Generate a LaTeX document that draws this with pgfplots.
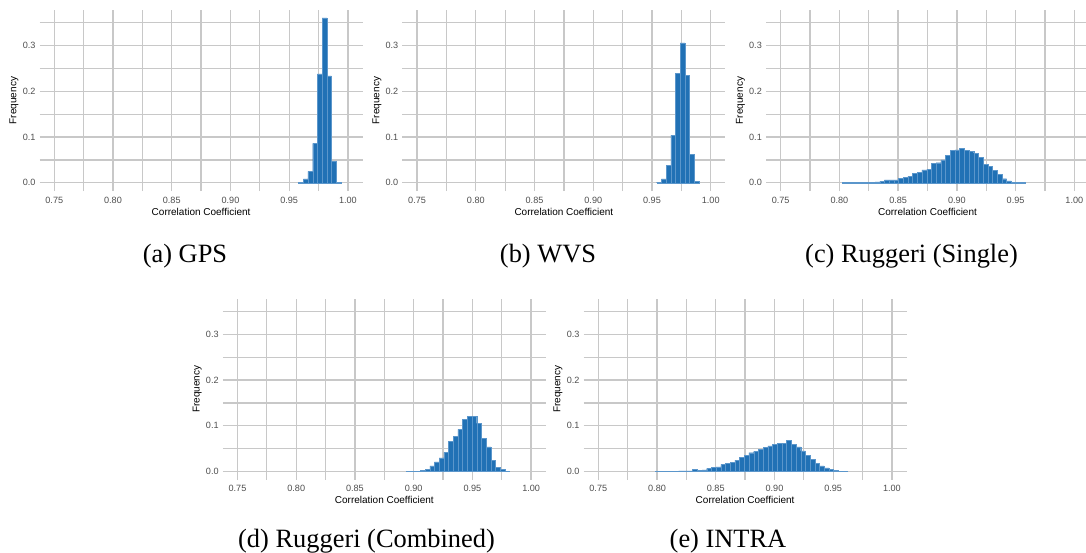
\documentclass[border=0pt]{standalone}
\usepackage{fontspec}
\setmainfont{Liberation Sans}
\newfontfamily\capfont{Liberation Serif}
\usepackage{pgfplots}
\pgfplotsset{compat=1.18}

\definecolor{barblue}{HTML}{2171B5}
\definecolor{baredge}{HTML}{5B96CB}
\definecolor{gridgray}{HTML}{C8C8C8}
\definecolor{ticktext}{HTML}{4D4D4D}

\pgfplotsset{
  hist/.style={
    scale only axis, width=323pt, height=181pt,
    anchor=north west,
    xmin=0.7375, xmax=1.0125, ymin=-0.018, ymax=0.378,
    xtick={0.75,0.80,0.85,0.90,0.95,1.00},
    minor xtick={0.775,0.825,0.875,0.925,0.975},
    ytick={0,0.1,0.2,0.3},
    minor ytick={0.05,0.15,0.25,0.35},
    grid=both,
    major grid style={draw=gridgray, line width=1.3pt},
    minor grid style={draw=gridgray, line width=1.3pt},
    axis line style={draw=none},
    tick style={draw=none},
    tick label style={font=\fontsize{9.1}{10}\selectfont, text=ticktext},
    /pgf/number format/assume math mode=true,
    xticklabel style={anchor=center, yshift=-9pt,
      /pgf/number format/.cd, fixed, fixed zerofill, precision=2},
    yticklabel style={anchor=east, inner sep=0pt, xshift=-4pt,
      /pgf/number format/.cd, fixed, fixed zerofill, precision=1},
    xlabel={Correlation Coefficient},
    ylabel={Frequency},
    label style={font=\fontsize{11.1}{12}\selectfont},
    every axis x label/.style={at={(axis description cs:0.5,-0.114)}, anchor=center},
    every axis y label/.style={at={(axis description cs:-0.079,0.5)}, anchor=center, rotate=90},
  },
  bars/.style={ybar interval, fill=barblue, draw=baredge, line width=0.3pt},
}

\begin{document}
\begin{tikzpicture}
\path[use as bounding box] (0,0) rectangle (1086pt,-553pt);

% (a) GPS
\begin{axis}[hist, at={(39.6pt,-10pt)}]
\addplot[bars] coordinates {
  (0.958,0.001) (0.962,0.0088) (0.966,0.025) (0.970,0.086) (0.974,0.238)
  (0.978,0.361) (0.982,0.234) (0.986,0.047) (0.990,0.001) (0.994,0)
};
\end{axis}

% (b) WVS
\begin{axis}[hist, at={(402.4pt,-10pt)}]
\addplot[bars] coordinates {
  (0.954,0.0015) (0.958,0.0088) (0.962,0.038) (0.966,0.104) (0.970,0.239)
  (0.974,0.306) (0.978,0.235) (0.982,0.062) (0.986,0.003) (0.990,0)
};
\end{axis}

% (c) Ruggeri (Single)
\begin{axis}[hist, at={(766pt,-10pt)}]
\addplot[bars] coordinates {
  (0.8023,0.0004) (0.8063,0.0004) (0.8103,0.0005) (0.8143,0.0005) (0.8183,0.0008)
  (0.8223,0.0010) (0.8263,0.0012) (0.8303,0.0020) (0.8343,0.0025) (0.8383,0.0066)
  (0.8423,0.0066) (0.8463,0.0062) (0.8503,0.010) (0.8543,0.012) (0.8583,0.014)
  (0.8623,0.020) (0.8663,0.023) (0.8703,0.028) (0.8743,0.029) (0.8783,0.042)
  (0.8823,0.044) (0.8863,0.050) (0.8903,0.060) (0.8943,0.071) (0.8983,0.072)
  (0.9023,0.075) (0.9063,0.071) (0.9103,0.069) (0.9143,0.065) (0.9183,0.056)
  (0.9223,0.040) (0.9263,0.036) (0.9303,0.027) (0.9343,0.018) (0.9383,0.009)
  (0.9423,0.004) (0.9463,0.0015) (0.9503,0.0006) (0.9543,0.0003) (0.9583,0)
};
\end{axis}

% (d) Ruggeri (Combined)
\begin{axis}[hist, at={(222.8pt,-298.7pt)}]
\addplot[bars] coordinates {
  (0.8937,0.0003) (0.8977,0.0005) (0.9017,0.0008) (0.9057,0.003) (0.9097,0.0045)
  (0.9137,0.012) (0.9177,0.021) (0.9217,0.030) (0.9257,0.042) (0.9297,0.066)
  (0.9337,0.077) (0.9377,0.092) (0.9417,0.114) (0.9457,0.120) (0.9497,0.120)
  (0.9537,0.105) (0.9577,0.072) (0.9617,0.054) (0.9657,0.025) (0.9697,0.009)
  (0.9737,0.0045) (0.9777,0.0007) (0.9817,0)
};
\end{axis}

% (e) INTRA
\begin{axis}[hist, at={(583.6pt,-298.7pt)}]
\addplot[bars] coordinates {
  (0.7983,0.0003) (0.8023,0.0005) (0.8063,0.0005) (0.8103,0.0007) (0.8143,0.0008)
  (0.8183,0.0012) (0.8223,0.0015) (0.8263,0.0015) (0.8303,0.0044) (0.8343,0.002)
  (0.8383,0.0036) (0.8423,0.0066) (0.8463,0.0095) (0.8503,0.010) (0.8543,0.0153)
  (0.8583,0.018) (0.8623,0.020) (0.8663,0.025) (0.8703,0.031) (0.8743,0.036)
  (0.8783,0.041) (0.8823,0.044) (0.8863,0.049) (0.8903,0.053) (0.8943,0.056)
  (0.8983,0.060) (0.9023,0.061) (0.9063,0.061) (0.9103,0.068) (0.9143,0.059)
  (0.9183,0.054) (0.9223,0.045) (0.9263,0.036) (0.9303,0.026) (0.9343,0.018)
  (0.9383,0.012) (0.9423,0.008) (0.9463,0.005) (0.9503,0.002) (0.9543,0.0007)
  (0.9583,0.0003) (0.9623,0)
};
\end{axis}

\begin{scope}[every node/.style={anchor=base, inner sep=0pt, font=\capfont\fontsize{26.4}{30}\selectfont}]
\node at (185pt,-262pt) {(a) GPS};
\node at (548pt,-262pt) {(b) WVS};
\node at (911.5pt,-262pt) {(c) Ruggeri (Single)};
\node at (366.5pt,-547pt) {(d) Ruggeri (Combined)};
\node at (728pt,-547pt) {(e) INTRA};
\end{scope}
\end{tikzpicture}
\end{document}
